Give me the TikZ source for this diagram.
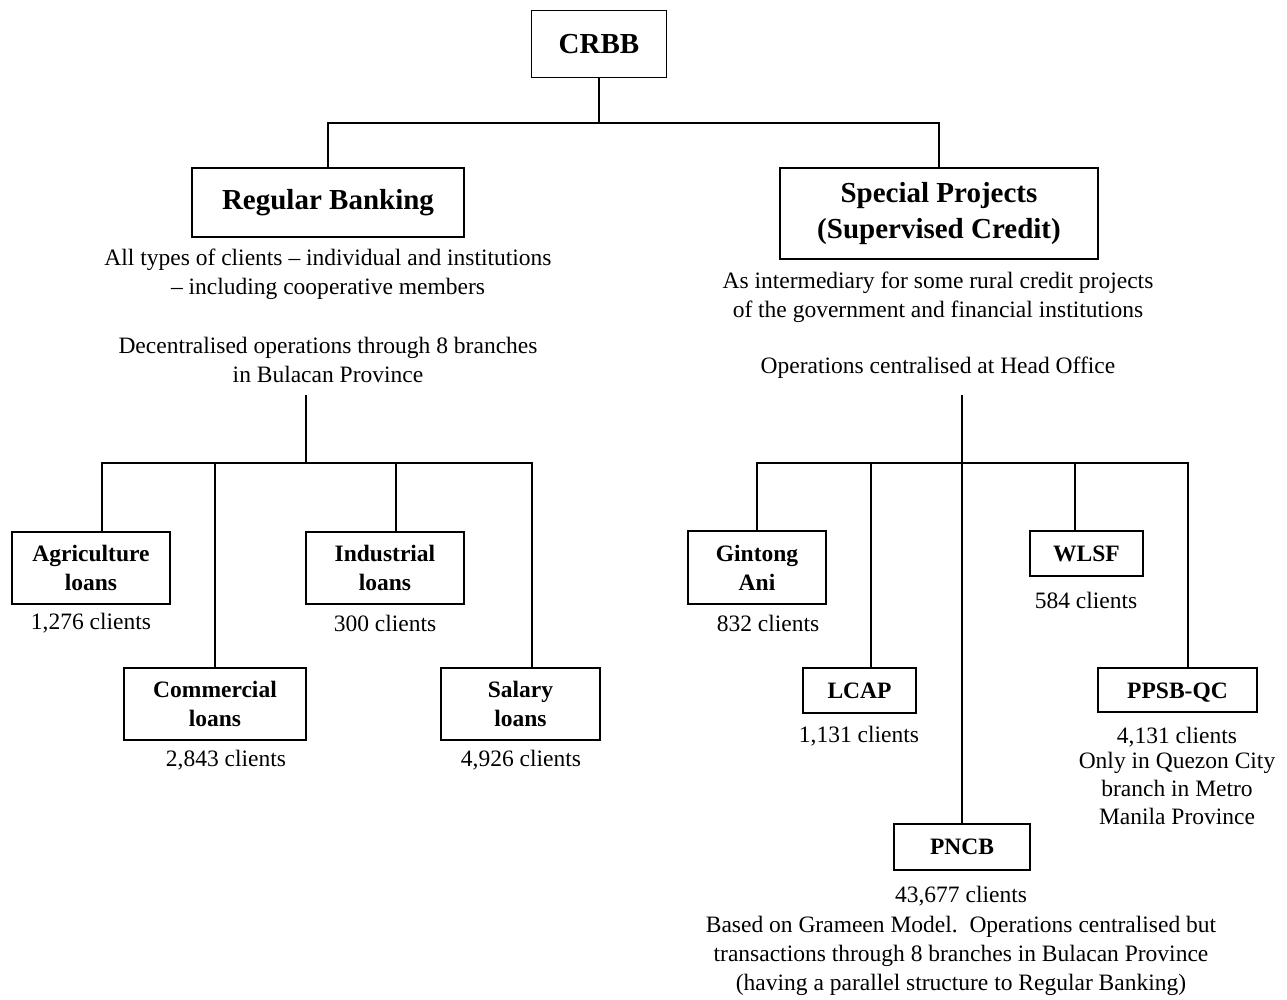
\documentclass[tikz,border=0pt]{standalone}
\usepackage{fontspec}
\setmainfont{Liberation Serif}
\begin{document}
\begin{tikzpicture}[x=1bp,y=-1bp,
  box/.style={draw, line width=1.3bp, inner sep=0pt, align=center},
  boxl/.style={box, font=\fontsize{23.5bp}{29bp}\selectfont\bfseries},
  boxt/.style={box, font=\fontsize{29bp}{34bp}\selectfont\bfseries},
  txt/.style={inner sep=0pt, align=center, font=\fontsize{23.5bp}{29bp}\selectfont},
  conn/.style={line width=1.3bp}]
\useasboundingbox (0,0) rectangle (1287,1000);
% boxes
\node[boxt, minimum width=135bp, minimum height=67bp] (crbb) at (599,44) {CRBB};
\node[boxt, minimum width=272bp, minimum height=69bp] (rb) at (328,202.5) {Regular Banking};
\node[boxt, minimum width=318bp, minimum height=91bp, font=\fontsize{29bp}{36bp}\selectfont\bfseries] (sp) at (939,213.5) {Special Projects\\(Supervised Credit)};
\node[boxl, minimum width=158bp, minimum height=72bp] (agri) at (91,568) {Agriculture\\loans};
\node[boxl, minimum width=158bp, minimum height=72bp] (ind) at (385,568) {Industrial\\loans};
\node[boxl, minimum width=182bp, minimum height=72bp] (comm) at (215,704) {Commercial\\loans};
\node[boxl, minimum width=159bp, minimum height=72bp] (sal) at (520.5,704) {Salary\\loans};
\node[boxl, minimum width=138bp, minimum height=73bp] (gint) at (757,567.5) {Gintong\\Ani};
\node[boxl, minimum width=113bp, minimum height=45bp] (wlsf) at (1086.5,553.5) {WLSF};
\node[boxl, minimum width=113bp, minimum height=45bp] (lcap) at (859.5,690.5) {LCAP};
\node[boxl, minimum width=159bp, minimum height=44bp, text height=17bp, text depth=0bp] (ppsb) at (1177.5,690) {PPSB-QC};
\node[boxl, minimum width=136bp, minimum height=46bp] (pncb) at (962,847) {PNCB};
% texts
\node[txt] (rbt1) at (328,274.5) {All types of clients -- individual and institutions\\-- including cooperative members};
\node[txt] (rbt2) at (328,359.5) {Decentralised operations through 8 branches\\in Bulacan Province};
\node[txt] (spt1) at (938,297.5) {As intermediary for some rural credit projects\\of the government and financial institutions};
\node[txt] (spt2) at (938,368) {Operations centralised at Head Office};
\node[txt] (agric) at (91,623) {1,276 clients};
\node[txt] (indc) at (385,623) {300 clients};
\node[txt] (commc) at (226,760) {2,843 clients};
\node[txt] (salc) at (521,760) {4,926 clients};
\node[txt] (gintc) at (768,623) {832 clients};
\node[txt] (wlsfc) at (1086,600) {584 clients};
\node[txt] (lcapc) at (859,736) {1,131 clients};
\node[txt] (ppsbc) at (1177,737) {4,131 clients};
\node[txt, font=\fontsize{23.5bp}{28bp}\selectfont] (ppsbt) at (1177,788) {Only in Quezon City\\branch in Metro\\Manila Province};
\node[txt] (pncbc) at (961,896) {43,677 clients};
\node[txt] (pncbt) at (961,955.5) {Based on Grameen Model.\ \ Operations centralised but\\transactions through 8 branches in Bulacan Province\\(having a parallel structure to Regular Banking)};
% connectors
\coordinate (top) at (599,123);
\coordinate (ls) at (306,395);
\coordinate (lb) at (306,463);
\coordinate (rs) at (962,395);
\coordinate (rbr) at (962,463);
\draw[conn] (crbb.south) -- (top);
\draw[conn] (rb.north) |- (top) -| (sp.north);
\draw[conn] (ls) -- (lb);
\draw[conn] ([xshift=11bp]agri.north) |- (lb) -| ([xshift=11.5bp]sal.north);
\draw[conn] (comm.north) |- (lb);
\draw[conn] ([xshift=11bp]ind.north) |- (lb);
\draw[conn] (rs) -- (pncb.north);
\draw[conn] (gint.north) |- (rbr) -| ([xshift=10.5bp]ppsb.north);
\draw[conn] ([xshift=11.5bp]lcap.north) |- (rbr);
\draw[conn] ([xshift=-11.5bp]wlsf.north) |- (rbr);
\end{tikzpicture}
\end{document}
